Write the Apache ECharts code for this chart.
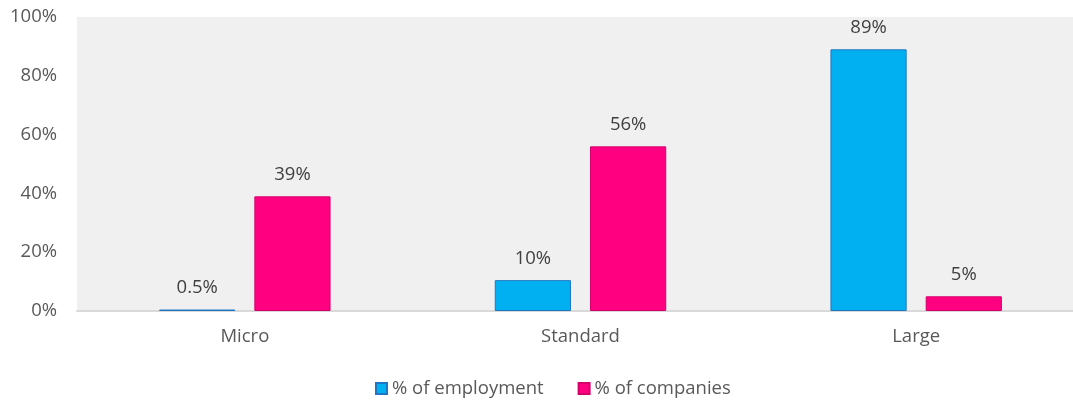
<!DOCTYPE html>
<html>
<head>
<meta charset="utf-8">
<script src="https://cdn.jsdelivr.net/npm/echarts@6/dist/echarts.min.js"></script>
<style>html,body{margin:0;padding:0;background:#fff}#c{width:1073px;height:401px}</style>
</head>
<body>
<div id="c"></div>
<script>
const categories = ['Micro', 'Standard', 'Large'];
const employment = [0.5, 10.5, 89];
const employmentLabels = ['0.5%', '10%', '89%'];
const companies = [39, 56, 5];
const companiesLabels = ['39%', '56%', '5%'];
const seriesNames = ['% of employment', '% of companies'];

const font = 'Open Sans';
const fs = 18.5;
const chart = echarts.init(document.getElementById('c'));
chart.setOption({
  animation: false,
  textStyle: { fontFamily: font },
  grid: { left: 77, width: 1007, top: 17, height: 294, show: true, backgroundColor: '#f0f0f0', borderWidth: 0,
    containLabel: false, outerBoundsMode: 'none' },
  legend: {
    top: 374, left: 370,
    itemWidth: 11, itemHeight: 11, itemGap: 34,
    icon: 'rect',
    textStyle: { color: '#595959', fontSize: fs, fontFamily: font },
    data: seriesNames
  },
  xAxis: {
    type: 'category', data: categories,
    axisLine: { lineStyle: { color: '#d9d9d9', width: 2 } },
    axisTick: { show: false },
    axisLabel: { color: '#595959', fontSize: fs, margin: 16 }
  },
  yAxis: {
    type: 'value', min: 0, max: 100, interval: 20,
    splitLine: { show: false },
    axisLabel: { color: '#595959', fontSize: fs, margin: 20, formatter: '{value}%' }
  },
  series: [
    {
      name: seriesNames[0], type: 'bar', data: employment,
      barWidth: '22.7%', barGap: '25%',
      itemStyle: { color: '#00b0f0', borderColor: '#1f77c4', borderWidth: 1 },
      label: { show: true, position: 'top', distance: 12, color: '#404040', fontSize: fs,
        formatter: p => employmentLabels[p.dataIndex] }
    },
    {
      name: seriesNames[1], type: 'bar', data: companies,
      barWidth: '22.7%', barGap: '25%',
      itemStyle: { color: '#ff0080', borderColor: '#d6006b', borderWidth: 1 },
      label: { show: true, position: 'top', distance: 12, color: '#404040', fontSize: fs,
        formatter: p => companiesLabels[p.dataIndex] }
    }
  ]
});
</script>
</body>
</html>
